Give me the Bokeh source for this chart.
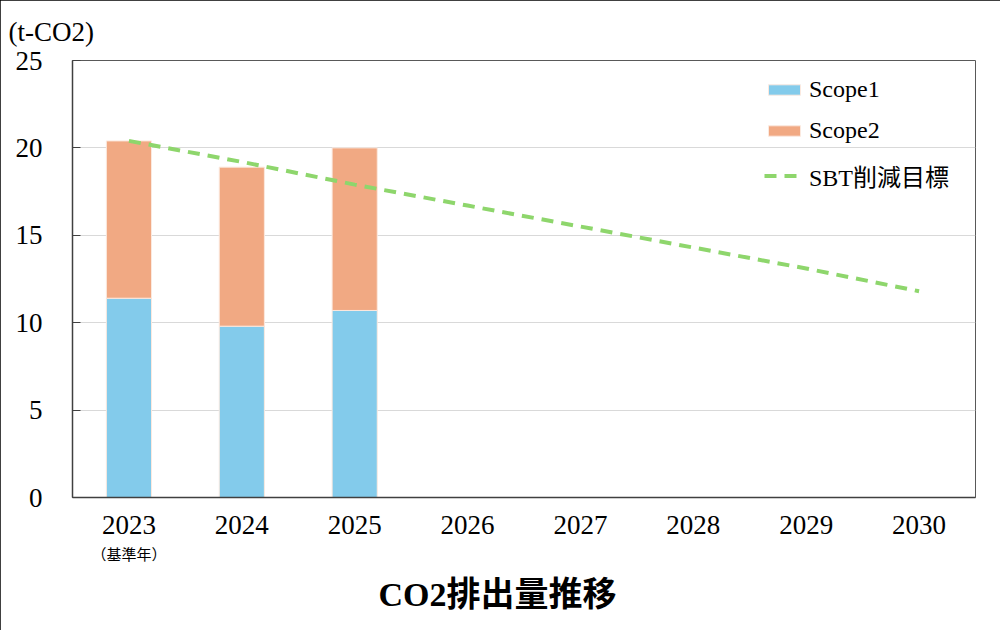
from bokeh.plotting import figure
from bokeh.models import (ColumnDataSource, FactorRange, Range1d, FixedTicker,
                          Legend, LegendItem, Title, CategoricalAxis)
from bokeh.embed import file_html
from bokeh.resources import INLINE

# ---- data ----
years = ["2023", "2024", "2025", "2026", "2027", "2028", "2029", "2030"]
bar_years = ["2023", "2024", "2025"]
scope1 = [11.4, 9.8, 10.7]
scope2 = [9.0, 9.1, 9.3]
sbt_target = [20.4, 19.2, 17.9, 16.7, 15.5, 14.3, 13.1, 11.8]
y_ticks = [0, 5, 10, 15, 20, 25]
base_year = "2023"
base_year_note = "（基準年）"
unit_label = "(t-CO2)"
chart_title = "CO2排出量推移"

SERIF = "Liberation Serif, Noto Sans CJK JP"

p = figure(width=1000, height=630, x_range=FactorRange(*years), y_range=Range1d(0, 25),
           output_backend="svg", toolbar_location=None,
           frame_width=903, frame_height=437,
           min_border_left=72, min_border_right=25, min_border_top=60, min_border_bottom=133)
p.styles = {"outline": "1px solid #000000", "outline-offset": "-1px"}

bar_src = ColumnDataSource(dict(x=bar_years, scope1=scope1, scope2=scope2))
r_bars = p.vbar_stack(["scope1", "scope2"], x="x", width=0.4, source=bar_src,
                      color=["#83cbeb", "#f1a983"], line_color="#fbe9df", line_width=1)

line_src = ColumnDataSource(dict(x=years, y=sbt_target))
r_line = p.line("x", "y", source=line_src, line_color="#8ed66c", line_width=4,
                line_dash="12 8")

# axes
p.yaxis.ticker = FixedTicker(ticks=y_ticks)
p.yaxis.major_tick_in = 8
p.yaxis.major_tick_out = 0
p.yaxis.minor_tick_line_color = None
p.yaxis.axis_line_color = "#404040"
p.yaxis.axis_line_width = 1.5
p.yaxis.major_tick_line_color = "#404040"
p.yaxis.major_label_text_font = SERIF
p.yaxis.major_label_text_font_size = "27px"
p.yaxis.major_label_text_color = "#000000"
p.yaxis.major_label_standoff = 30

p.xaxis.major_tick_in = 0
p.xaxis.major_tick_out = 0
p.xaxis.axis_line_color = "#404040"
p.xaxis.axis_line_width = 1.5
p.xaxis.major_label_text_font = SERIF
p.xaxis.major_label_text_font_size = "27px"
p.xaxis.major_label_text_color = "#000000"
p.xaxis.major_label_standoff = 18

# second axis carrying the base-year note under 2023 (other factors are invisible)
note_factors = [base_year_note if y == base_year else "\u200b" * (i + 1)
                for i, y in enumerate(years)]
p.extra_x_ranges = {"note": FactorRange(*note_factors)}
note_axis = CategoricalAxis(
    x_range_name="note",
    axis_line_color=None, major_tick_line_color=None, minor_tick_line_color=None,
    major_label_text_font="Noto Sans CJK JP", major_label_text_font_size="15px",
    major_label_text_color="#000000", major_label_standoff=0)
p.add_layout(note_axis, "below")

p.xgrid.grid_line_color = None
p.ygrid.ticker = FixedTicker(ticks=y_ticks)
p.ygrid.grid_line_color = "#d9d9d9"
p.ygrid.grid_line_width = 1

p.outline_line_color = "#595959"
p.outline_line_width = 1
p.background_fill_color = "white"
p.border_fill_color = "white"

# legend
legend = Legend(items=[
    LegendItem(label="Scope1", renderers=[r_bars[0]]),
    LegendItem(label="Scope2", renderers=[r_bars[1]]),
    LegendItem(label="SBT削減目標", renderers=[r_line]),
], location=(692, 304), orientation="vertical")
legend.background_fill_alpha = 0
legend.border_line_color = None
legend.label_text_font = SERIF
legend.label_text_font_size = "24px"
legend.label_text_color = "#000000"
legend.glyph_width = 40
legend.glyph_height = 13
legend.label_height = 22
legend.spacing = 14
legend.padding = 10
legend.margin = 0
legend.label_standoff = 5
p.add_layout(legend, "center")

# titles
p.add_layout(Title(text=unit_label, align="left", offset=-64, standoff=28,
                   text_font=SERIF, text_font_size="27px", text_font_style="normal",
                   text_color="#000000"), "above")
p.add_layout(Title(text=chart_title, align="left", offset=306, standoff=14,
                   text_font=SERIF, text_font_size="34px", text_font_style="bold",
                   text_color="#000000"), "below")

open("out.html", "w").write(file_html(p, INLINE))
